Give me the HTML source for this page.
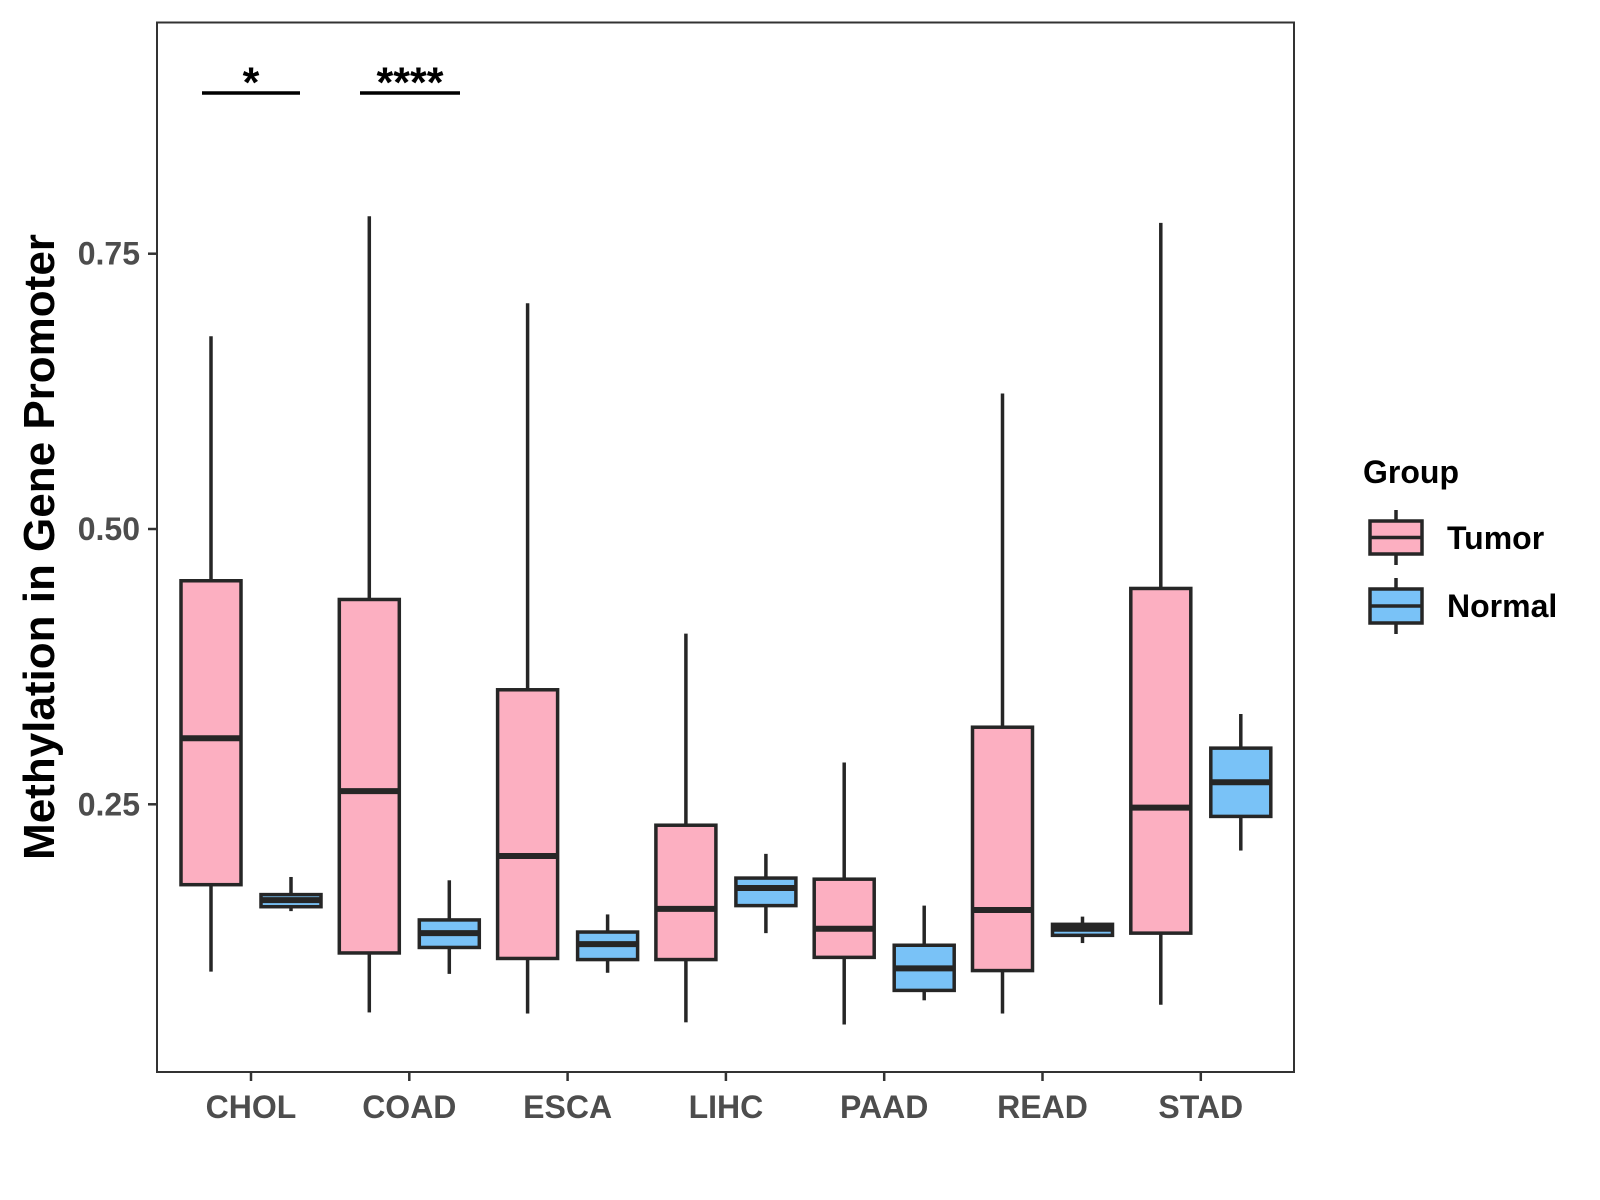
<!DOCTYPE html>
<html><head><meta charset="utf-8"><style>
html,body{margin:0;padding:0;background:#fff;}
svg{display:block;font-family:"Liberation Sans",Arial,sans-serif;font-weight:bold;}
</style></head><body>
<svg id="chart" width="1600" height="1200" viewBox="0 0 1600 1200">
<rect x="157" y="22.5" width="1137" height="1049.5" fill="#fff" stroke="#333" stroke-width="2"/>
<g id="boxes"></g>
<g id="axes"></g>
<text x="54" y="547" transform="rotate(-90 54 547)" text-anchor="middle" font-size="44" fill="#000">Methylation in Gene Promoter</text>
<line x1="202" y1="93" x2="300" y2="93" stroke="#000" stroke-width="3.5"/>
<text x="251" y="97" text-anchor="middle" font-size="43" fill="#000">*</text>
<line x1="360" y1="93" x2="460" y2="93" stroke="#000" stroke-width="3.5"/>
<text x="410" y="97" text-anchor="middle" font-size="43" fill="#000">****</text>
<g>
<text x="1363" y="483" font-size="32" fill="#000">Group</text>
<g>
<line x1="1396" y1="510" x2="1396" y2="565" stroke="#262626" stroke-width="3.5"/>
<rect x="1370" y="521" width="52" height="33" fill="#FCAFC1" stroke="#262626" stroke-width="3.5"/>
<line x1="1370" y1="537.5" x2="1422" y2="537.5" stroke="#262626" stroke-width="3.5"/>
<text x="1447" y="549" font-size="32" fill="#000">Tumor</text>
</g>
<g>
<line x1="1396" y1="578" x2="1396" y2="634" stroke="#262626" stroke-width="3.5"/>
<rect x="1370" y="589" width="52" height="34" fill="#79C2F7" stroke="#262626" stroke-width="3.5"/>
<line x1="1370" y1="606" x2="1422" y2="606" stroke="#262626" stroke-width="3.5"/>
<text x="1447" y="617" font-size="32" fill="#000">Normal</text>
</g>
</g>
</svg>
<script>
const categories = ["CHOL","COAD","ESCA","LIHC","PAAD","READ","STAD"];
const tumorLow = [0.098,0.061,0.060,0.052,0.050,0.060,0.068];
const tumorQ1  = [0.177,0.115,0.110,0.109,0.111,0.099,0.133];
const tumorMed = [0.310,0.262,0.203,0.155,0.137,0.154,0.247];
const tumorQ3  = [0.453,0.436,0.354,0.231,0.182,0.320,0.446];
const tumorHigh= [0.675,0.784,0.705,0.405,0.288,0.623,0.778];
const normalLow = [0.153,0.096,0.097,0.133,0.072,0.124,0.208];
const normalQ1  = [0.157,0.120,0.109,0.158,0.081,0.131,0.239];
const normalMed = [0.163,0.133,0.123,0.174,0.101,0.137,0.270];
const normalQ3  = [0.168,0.145,0.134,0.183,0.122,0.141,0.301];
const normalHigh= [0.184,0.181,0.150,0.205,0.158,0.148,0.332];
const yTicks = [0.25,0.50,0.75];
const yTickLabels = ["0.25","0.50","0.75"];

const NS="http://www.w3.org/2000/svg";
function yScale(v){return 529 + (0.5 - v)*1101.2;}
function xScale(i){return 251 + i*158.3;}
const boxes=document.getElementById('boxes');
const axes=document.getElementById('axes');
function mk(tag,attrs,parent){const e=document.createElementNS(NS,tag);for(const k in attrs)e.setAttribute(k,attrs[k]);parent.appendChild(e);return e;}

function drawBox(cx,lo,q1,med,q3,hi,fill,name){
  const g=mk('g',{},boxes);
  
  
  mk('line',{x1:cx,x2:cx,y1:yScale(hi),y2:yScale(q3),stroke:'#262626','stroke-width':3.5},g);
  mk('line',{x1:cx,x2:cx,y1:yScale(q1),y2:yScale(lo),stroke:'#262626','stroke-width':3.5},g);
  mk('rect',{x:cx-30,y:yScale(q3),width:60,height:Math.max(yScale(q1)-yScale(q3),1),fill:fill,stroke:'#262626','stroke-width':3.5},g);
  mk('line',{x1:cx-30,x2:cx+30,y1:yScale(med),y2:yScale(med),stroke:'#262626','stroke-width':6},g);
}
categories.forEach((c,i)=>{
  const x=xScale(i);
  drawBox(x-40,tumorLow[i],tumorQ1[i],tumorMed[i],tumorQ3[i],tumorHigh[i],'#FCAFC1','box-tumor-'+c.toLowerCase());
  drawBox(x+40,normalLow[i],normalQ1[i],normalMed[i],normalQ3[i],normalHigh[i],'#79C2F7','box-normal-'+c.toLowerCase());
  const t=mk('line',{x1:x,x2:x,y1:1072,y2:1081,stroke:'#333','stroke-width':2.5},axes);
  
  
  const l=mk('text',{x:x,y:1118,'text-anchor':'middle','font-size':32,fill:'#4d4d4d'},axes);
  l.textContent=c;
  
  
});
yTicks.forEach((v,i)=>{
  const y=yScale(v);
  const t=mk('line',{x1:148,x2:157,y1:y,y2:y,stroke:'#333','stroke-width':2.5},axes);
  
  
  const l=mk('text',{x:140,y:y+11,'text-anchor':'end','font-size':32,fill:'#4d4d4d'},axes);
  l.textContent=yTickLabels[i];
  
  
});
</script>
</body></html>
